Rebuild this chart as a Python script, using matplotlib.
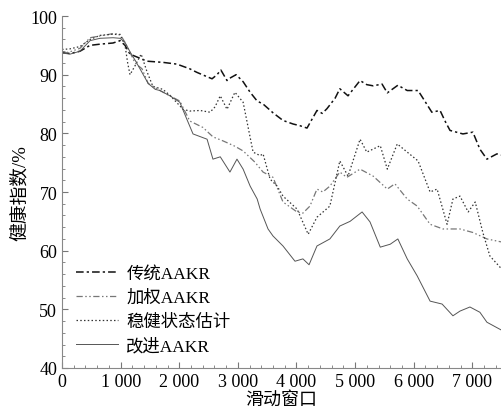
import matplotlib
matplotlib.use("Agg")
import matplotlib.pyplot as plt
from matplotlib.ticker import MultipleLocator, FuncFormatter

plt.rcParams['font.family'] = ['Liberation Serif', 'Noto Sans CJK SC', 'DejaVu Sans']

# ---- data ----
trad_x = [0, 136, 307, 478, 648, 870, 990, 1075, 1160, 1330, 1450, 1720, 1960, 2180, 2300, 2440,
          2560, 2645, 2710, 2815, 2880, 2970, 3090, 3210, 3330, 3430, 3600, 3770, 3940, 4060, 4180,
          4350, 4440, 4520, 4660, 4740, 4880, 5085, 5200, 5310, 5460, 5550, 5730, 5890, 6075, 6190,
          6310, 6450, 6540, 6620, 6840, 7010, 7130, 7250, 7420, 7490]
trad_y = [93.8, 93.6, 94.0, 95.0, 95.2, 95.4, 95.8, 95.0, 93.5, 92.8, 92.3, 92.1, 91.8, 91.0, 90.4, 89.8,
          89.3, 90.0, 90.8, 89.0, 89.5, 90.0, 88.8, 87.0, 85.5, 85.0, 83.5, 82.2, 81.6, 81.3, 80.9,
          83.9, 83.4, 84.2, 86.0, 87.6, 86.4, 89.0, 88.3, 88.1, 88.4, 86.9, 88.2, 87.3, 87.3, 85.5,
          83.6, 83.9, 82.0, 80.5, 79.9, 80.2, 77.3, 75.6, 76.5, 76.3]

wt_x = [0, 136, 307, 478, 648, 870, 990, 1075, 1160, 1245, 1365, 1470, 1590, 1670, 1840, 2010, 2180,
        2405, 2575, 2750, 2950, 3090, 3290, 3430, 3600, 3770, 4010, 4110, 4230, 4350, 4450, 4570,
        4740, 4860, 5085, 5310, 5550, 5680, 5890, 6060, 6280, 6500, 6790, 7010, 7250, 7490]
wt_y = [93.6, 93.9, 94.5, 96.3, 96.6, 97.0, 96.9, 95.5, 93.8, 92.0, 91.0, 88.5, 87.8, 87.3, 86.4, 85.5, 82.1,
        81.0, 79.4, 78.7, 77.8, 77.0, 75.1, 73.4, 72.5, 68.3, 66.6, 66.4, 67.6, 70.5, 70.0, 71.0,
        73.4, 72.5, 73.9, 72.7, 70.5, 71.4, 68.8, 67.6, 64.5, 63.7, 63.7, 63.1, 62.0, 61.5]

rob_x = [0, 136, 307, 478, 648, 870, 990, 1075, 1120, 1160, 1245, 1350, 1450, 1550, 1720, 1840, 2065,
         2180, 2355, 2525, 2610, 2700, 2815, 2950, 3090, 3170, 3260, 3380, 3430, 3550, 3670, 3770,
         4010, 4200, 4350, 4570, 4740, 4880, 5085, 5200, 5430, 5550, 5720, 5890, 6075, 6280, 6400,
         6570, 6670, 6790, 6930, 7050, 7180, 7300, 7490]
rob_y = [94.3, 94.4, 94.8, 96.0, 96.7, 96.9, 96.8, 95.0, 92.0, 90.0, 91.5, 93.5, 90.5, 88.0, 87.5, 86.5, 84.1,
         83.8, 83.9, 83.6, 84.5, 86.4, 84.1, 87.0, 85.3, 81.3, 76.8, 76.2, 76.5, 72.2, 71.0, 69.3,
         67.1, 62.8, 65.7, 67.6, 75.3, 72.7, 79.0, 76.8, 77.9, 73.9, 78.2, 76.8, 75.3, 70.0, 70.5,
         64.5, 68.8, 69.3, 66.6, 68.3, 63.1, 59.1, 57.0]

imp_x = [0, 136, 307, 478, 648, 870, 990, 1075, 1160, 1245, 1330, 1470, 1590, 1670, 1840, 2010, 2130,
         2235, 2475, 2575, 2700, 2865, 2985, 3090, 3210, 3330, 3380, 3515, 3600, 3770, 3975, 4110,
         4215, 4350, 4570, 4740, 4915, 5120, 5255, 5430, 5600, 5730, 5890, 6060, 6280, 6485, 6670,
         6790, 6960, 7130, 7250, 7490]
imp_y = [93.7, 93.5, 94.0, 95.8, 96.2, 96.3, 96.2, 95.5, 93.9, 92.5, 91.0, 88.5, 87.5, 87.3, 86.4, 85.3, 82.4,
         79.9, 79.0, 75.6, 76.0, 73.4, 75.6, 73.9, 71.0, 68.8, 67.1, 63.7, 62.5, 60.8, 58.2, 58.6,
         57.6, 60.8, 62.0, 64.2, 65.0, 66.6, 64.9, 60.6, 61.1, 62.0, 58.6, 55.7, 51.4, 50.9, 48.9,
         49.7, 50.4, 49.5, 47.8, 46.5]

labels = ['传统AAKR', '加权AAKR', '稳健状态估计', '改进AAKR']
x_ticks = [0, 1000, 2000, 3000, 4000, 5000, 6000, 7000]
y_ticks = [40, 50, 60, 70, 80, 90, 100]

# ---- plot ----
fig = plt.figure(figsize=(5.01, 4.10), dpi=100)
ax = fig.add_axes([0.1238, 0.1, 0.8762, 0.8585])

ax.plot(trad_x, trad_y, color='#111111', lw=1.1, linestyle=(0, (5, 2, 1.5, 2)), label=labels[0])
ax.plot(wt_x, wt_y, color='#777777', lw=0.9, linestyle=(0, (5, 2, 1.2, 2, 1.2, 2)), label=labels[1])
ax.plot(rob_x, rob_y, color='#333333', lw=0.9, linestyle=(0, (1.2, 1.8)), label=labels[2])
ax.plot(imp_x, imp_y, color='#555555', lw=0.7, linestyle='-', label=labels[3])

ax.set_xlim(0, 7490)
ax.set_ylim(40, 100)
ax.set_xticks(x_ticks)
ax.set_yticks(y_ticks)
ax.xaxis.set_major_formatter(FuncFormatter(lambda v, p: '0' if v == 0 else f'{int(v)//1000} {int(v)%1000:03d}'))
ax.xaxis.set_minor_locator(MultipleLocator(200))
ax.yaxis.set_minor_locator(MultipleLocator(2))
ax.tick_params(which='both', direction='in', color='#777777', labelsize=13)
ax.tick_params(which='major', length=4)
ax.tick_params(which='minor', length=2)
for s in ['top', 'right']:
    ax.spines[s].set_visible(False)
for s in ['left', 'bottom']:
    ax.spines[s].set_color('#888888')

ax.set_xlabel('滑动窗口', fontsize=13, labelpad=1)
ax.set_ylabel('健康指数/%', fontsize=13.5, labelpad=1)

leg = ax.legend(loc='lower left', frameon=False, fontsize=12.5, handlelength=2.4,
                handletextpad=0.5, bbox_to_anchor=(0.0, 0.0), borderaxespad=0.4,
                labelspacing=0.45)

fig.savefig('out.png', dpi=100)
